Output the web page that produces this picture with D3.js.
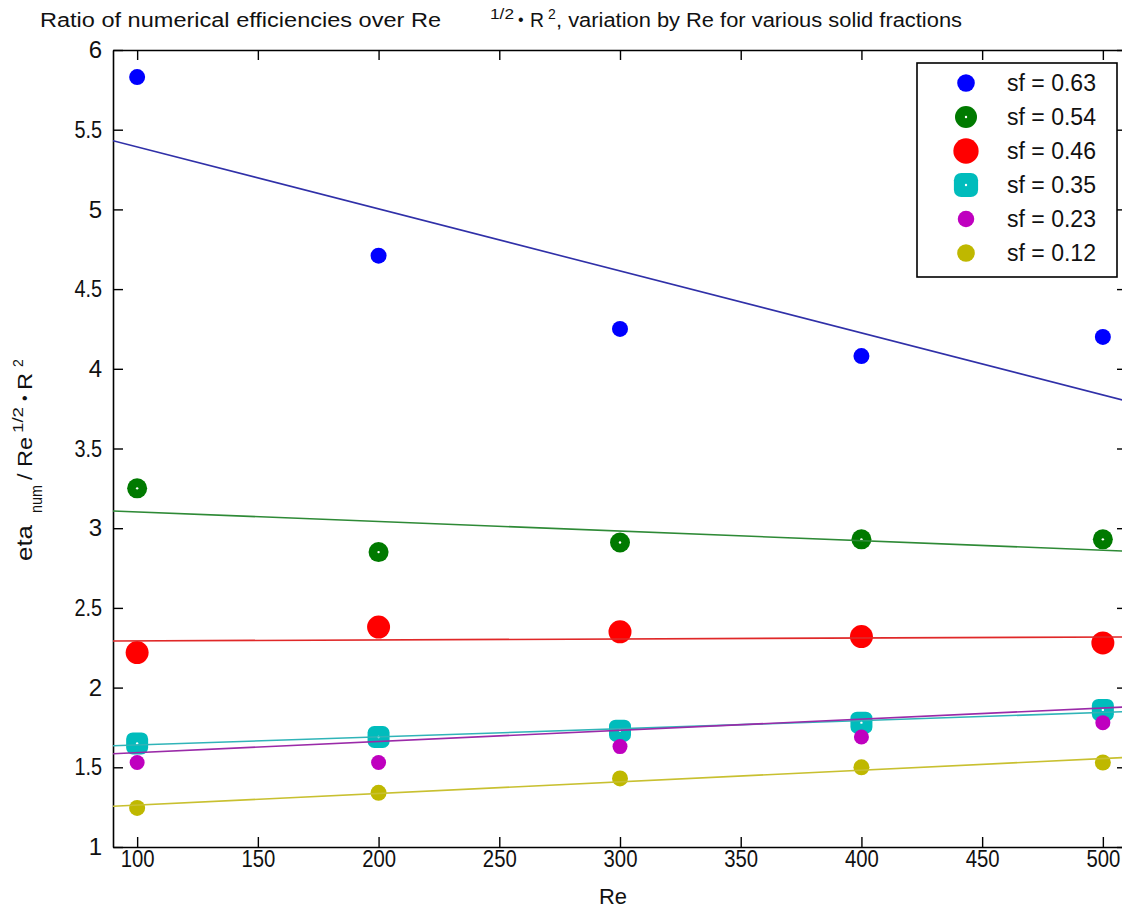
<!DOCTYPE html>
<html>
<head>
<meta charset="utf-8">
<script src="https://cdn.jsdelivr.net/npm/d3@7"></script>
<style>
  html, body { margin: 0; padding: 0; background: #fff; }
  svg text { font-family: "Liberation Sans", Arial, sans-serif; fill: #111; }
</style>
</head>
<body>
<svg id="chart" width="1122" height="915"></svg>
<script>
// Reynolds numbers sampled
const reValues = [100, 200, 300, 400, 500];

// eta_num / (Re^1/2 * R^2) for each solid fraction
const sf063 = [5.83, 4.71, 4.25, 4.08, 4.20];
const sf054 = [3.25, 2.85, 2.91, 2.93, 2.93];
const sf046 = [2.22, 2.38, 2.35, 2.32, 2.28];
const sf035 = [1.65, 1.69, 1.73, 1.78, 1.86];
const sf023 = [1.53, 1.53, 1.63, 1.69, 1.78];
const sf012 = [1.245, 1.34, 1.43, 1.50, 1.53];

const seriesLabels = ["sf = 0.63", "sf = 0.54", "sf = 0.46", "sf = 0.35", "sf = 0.23", "sf = 0.12"];
const seriesValues = [sf063, sf054, sf046, sf035, sf023, sf012];

// Linear trend lines: value = intercept + slope * Re
const fitSlopes     = [-0.00389, -0.00060, 0.00006, 0.00051, 0.00070, 0.00073];
const fitIntercepts = [ 5.781,    3.162,   2.287,   1.589,   1.522,   1.190 ];

// Styling per series
const markerColors = ["#0000ff", "#007a00", "#ff0000", "#00bcbc", "#bf00bf", "#bfb800"];
const lineColors   = ["#3030a8", "#2e8a36", "#e02828", "#30b4b8", "#9a2aa8", "#c8c030"];
const markerSizes  = [16, 20, 23, 22, 15, 16];
const markerDots   = [false, true, false, true, false, false];
const markerSquare = [false, false, false, true, false, false];

const xTicks = [100, 150, 200, 250, 300, 350, 400, 450, 500];
const yTicks = [1, 1.5, 2, 2.5, 3, 3.5, 4, 4.5, 5, 5.5, 6];
const xDomain = [90, 510];
const yDomain = [1, 6];

const svg = d3.select("#chart");
const plot = { left: 113, right: 1127, top: 50, bottom: 847 };

const x = d3.scaleLinear().domain(xDomain).range([plot.left, plot.right]);
const y = d3.scaleLinear().domain(yDomain).range([plot.bottom, plot.top]);

// Narrow lettering: squeeze a text to a given advance per character
function narrow(sel, perChar, perDot) {
  sel.each(function () {
    const t = this.textContent;
    if (t.length < 2) return;
    let w = 0;
    for (const c of t) w += (c === "." ? perDot : perChar);
    d3.select(this).attr("textLength", w).attr("lengthAdjust", "spacingAndGlyphs");
  });
}

// Title (with TeX-like superscripts)
const title = svg.append("g").attr("class", "title");
title.append("text").attr("x", 40).attr("y", 27).attr("font-size", 20)
  .attr("textLength", 401).attr("lengthAdjust", "spacingAndGlyphs")
  .text("Ratio of numerical efficiencies over Re");
title.append("text").attr("x", 490).attr("y", 19).attr("font-size", 14)
  .attr("textLength", 24).attr("lengthAdjust", "spacingAndGlyphs").text("1/2");
title.append("text").attr("x", 518).attr("y", 25).attr("font-size", 16).text("•");
title.append("text").attr("x", 530).attr("y", 27).attr("font-size", 20)
  .attr("textLength", 14).attr("lengthAdjust", "spacingAndGlyphs").text("R");
title.append("text").attr("x", 548).attr("y", 19).attr("font-size", 14).text("2");
title.append("text").attr("x", 556).attr("y", 27).attr("font-size", 20)
  .attr("textLength", 406).attr("lengthAdjust", "spacingAndGlyphs")
  .text(", variation by Re for various solid fractions");

// Axes box with inward ticks on all four sides
const axisStyle = g => {
  g.selectAll(".domain").attr("stroke", "#000").attr("stroke-width", 1.6);
  g.selectAll(".tick line").attr("stroke", "#000").attr("stroke-width", 1.4);
  g.selectAll(".tick text").attr("fill", "#111").attr("font-size", 24)
    .attr("font-family", "\"Liberation Sans\", Arial, sans-serif")
    .call(narrow, 11.3, 5);
};

svg.append("g").attr("transform", `translate(0,${plot.bottom})`)
  .call(d3.axisBottom(x).tickValues(xTicks).tickSizeInner(-10).tickSizeOuter(0).tickPadding(3).tickFormat(d3.format("d")))
  .call(axisStyle);
svg.append("g").attr("transform", `translate(0,${plot.top})`)
  .call(d3.axisTop(x).tickValues(xTicks).tickSizeInner(-10).tickSizeOuter(0).tickFormat(""))
  .call(axisStyle);
svg.append("g").attr("transform", `translate(${plot.left},0)`)
  .call(d3.axisLeft(y).tickValues(yTicks).tickSizeInner(-10).tickSizeOuter(0).tickPadding(11).tickFormat(d3.format("~g")))
  .call(axisStyle);
svg.append("g").attr("transform", `translate(${plot.right},0)`)
  .call(d3.axisRight(y).tickValues(yTicks).tickSizeInner(-10).tickSizeOuter(0).tickFormat(""))
  .call(axisStyle);

// Axis titles
svg.append("text").attr("x", 613).attr("y", 904).attr("text-anchor", "middle")
  .attr("font-size", 22).attr("textLength", 28).attr("lengthAdjust", "spacingAndGlyphs").text("Re");

const yl = svg.append("g").attr("transform", "translate(32,563) rotate(-90)");
yl.append("text").attr("x", 2).attr("y", 0).attr("font-size", 22)
  .attr("textLength", 36).attr("lengthAdjust", "spacingAndGlyphs").text("eta");
yl.append("text").attr("x", 50).attr("y", 10).attr("font-size", 16)
  .attr("textLength", 28).attr("lengthAdjust", "spacingAndGlyphs").text("num");
yl.append("text").attr("x", 83).attr("y", 0).attr("font-size", 21)
  .attr("textLength", 43).attr("lengthAdjust", "spacingAndGlyphs").text("/ Re");
yl.append("text").attr("x", 130).attr("y", -9).attr("font-size", 14)
  .attr("textLength", 26).attr("lengthAdjust", "spacingAndGlyphs").text("1/2");
yl.append("text").attr("x", 162).attr("y", -2).attr("font-size", 16).text("•");
yl.append("text").attr("x", 173).attr("y", 0).attr("font-size", 21)
  .attr("textLength", 17).attr("lengthAdjust", "spacingAndGlyphs").text("R");
yl.append("text").attr("x", 196).attr("y", -9).attr("font-size", 14).text("2");

// Clip region for the plotting area
svg.append("defs").append("clipPath").attr("id", "plotClip")
  .append("rect").attr("x", plot.left).attr("y", plot.top)
  .attr("width", plot.right - plot.left).attr("height", plot.bottom - plot.top);

const series = seriesLabels.map((label, i) => ({
  label, i,
  points: reValues.map((re, j) => ({ re, v: seriesValues[i][j] }))
}));

function drawMarker(g, cx, cy, i, scale = 1) {
  const s = markerSizes[i] * scale;
  if (markerSquare[i]) {
    g.append("rect").attr("x", cx - s / 2).attr("y", cy - s / 2)
      .attr("width", s).attr("height", s).attr("rx", s * 0.3)
      .attr("fill", markerColors[i]);
  } else {
    g.append("circle").attr("cx", cx).attr("cy", cy).attr("r", s / 2)
      .attr("fill", markerColors[i]);
  }
  if (markerDots[i]) {
    g.append("circle").attr("cx", cx).attr("cy", cy).attr("r", 1.2).attr("fill", "#fff");
  }
}

// Data markers
const marks = svg.append("g").attr("clip-path", "url(#plotClip)");
series.forEach(s => {
  const g = marks.append("g").attr("class", "series-" + s.i);
  s.points.forEach(p => drawMarker(g, x(p.re), y(p.v), s.i));
});

// Trend lines across the full Re range
const line = d3.line().x(d => x(d[0])).y(d => y(d[1]));
const lines = svg.append("g").attr("clip-path", "url(#plotClip)");
series.forEach(s => {
  const pts = xDomain.map(re => [re, fitIntercepts[s.i] + fitSlopes[s.i] * re]);
  lines.append("path").attr("d", line(pts)).attr("fill", "none")
    .attr("stroke", lineColors[s.i]).attr("stroke-width", 1.6);
});

// Legend
const legend = svg.append("g");
legend.append("rect").attr("x", 917).attr("y", 63).attr("width", 200).attr("height", 214)
  .attr("fill", "#fff").attr("stroke", "#000").attr("stroke-width", 1.6);
series.forEach(s => {
  const cy = 83 + s.i * 34;
  drawMarker(legend, 966, cy, s.i, 1.1);
  legend.append("text").attr("x", 1007).attr("y", cy + 8).attr("font-size", 23)
    .attr("textLength", 89).attr("lengthAdjust", "spacingAndGlyphs").text(s.label);
});
</script>
</body>
</html>
